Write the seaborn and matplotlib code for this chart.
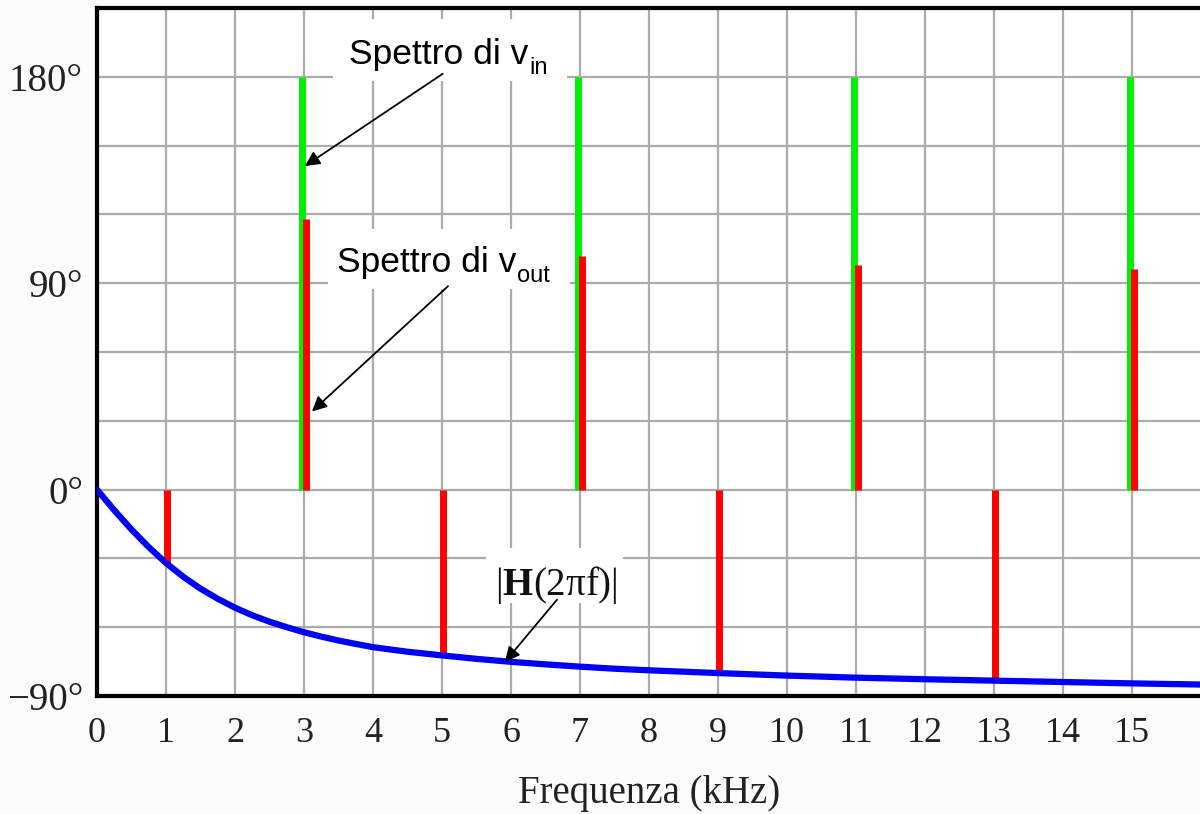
import matplotlib
matplotlib.use("Agg")
import matplotlib.pyplot as plt
from matplotlib.patches import Rectangle
import seaborn as sns
import pandas as pd

# ---- data ----
harm_in = [3, 7, 11, 15]
phase_in = [180, 180, 180, 180]

harm_out_pos = [3, 7, 11, 15]
phase_out_pos = [118, 102, 98, 96]

harm_out_neg = [1, 5, 9, 13]
phase_out_neg = [-32, -72, -80, -83]

curve_f = [0, 0.25, 0.5, 0.75, 1, 1.25, 1.5, 1.75, 2, 2.25, 2.5, 2.75, 3, 3.25, 3.5, 3.75, 4,
           4.5, 5, 5.5, 6, 6.5, 7, 7.5, 8, 9, 10, 11, 12, 13, 14, 15, 16]
curve_phase = [0, -9, -17.4, -25.1, -32, -38, -43.2, -47.6, -51.5, -54.8, -57.6, -60, -62.2, -64.1,
               -65.8, -67.3, -68.7, -70.7, -72.3, -73.8, -75.1, -76.2, -77.2, -78.1, -78.8, -80,
               -81.1, -82, -82.7, -83.3, -83.9, -84.5, -85]

x_ticks = list(range(0, 16))
y_label_ticks = [-90, 0, 90, 180]
y_label_text = ["\u221290\u00b0", "0\u00b0", "90\u00b0", "180\u00b0"]
y_grid = [-90, -60, -30, 0, 30, 60, 90, 120, 150, 180]

# ---- style ----
sns.set_style("white")
plt.rcParams["font.family"] = ["Liberation Serif", "DejaVu Serif"]
plt.rcParams["mathtext.fontset"] = "custom"
plt.rcParams["mathtext.rm"] = "Liberation Serif"
plt.rcParams["mathtext.bf"] = "Liberation Serif:bold"
plt.rcParams["mathtext.it"] = "Liberation Serif:italic"

fig = plt.figure(figsize=(12, 8.14), dpi=100, facecolor="#fcfcfc")
ax = fig.add_axes([97 / 1200, 118 / 814, 1104 / 1200, 688 / 814])
ax.set_facecolor("white")

grid_c = "#ababab"
for gy in y_grid:
    ax.axhline(gy, color=grid_c, lw=1.6, zorder=0)
for gx in range(1, 17):
    ax.axvline(gx, color=grid_c, lw=1.6, zorder=0)

# bars
ax.vlines([h - 0.03 for h in harm_in], 0, phase_in, color="#00ee00", lw=5, zorder=2)
ax.vlines([h + 0.025 for h in harm_out_pos], 0, phase_out_pos, color="#ff0000", lw=5, zorder=3)
ax.vlines([h + 0.02 for h in harm_out_neg], 0, phase_out_neg, color="#ff0000", lw=5, zorder=3)

# |H| curve
df = pd.DataFrame({"f": curve_f, "phase": curve_phase})
sns.lineplot(data=df, x="f", y="phase", ax=ax, color="#0000f5", lw=4.5, zorder=4,
             solid_joinstyle="round", solid_capstyle="round")

ax.set_xlim(0, 16)
ax.set_ylim(-90, 210)
ax.set_xticks(x_ticks)
ax.set_xticklabels([str(t) for t in x_ticks], fontsize=26)
ax.set_yticks(y_label_ticks)
ax.set_yticklabels(y_label_text, fontsize=28)
ax.tick_params(axis="x", length=0, pad=15, colors="#222222")
ax.tick_params(axis="y", length=0, pad=10, colors="#222222")
ax.set_xlabel("Frequenza (kHz)", fontsize=28, color="#222222", labelpad=18)
ax.set_ylabel("")

for side in ["left", "bottom", "top"]:
    ax.spines[side].set_visible(True)
    ax.spines[side].set_color("black")
    ax.spines[side].set_linewidth(3)
ax.spines["right"].set_visible(False)

# white label boxes (behind the bars, above the grid)
for (x0, x1, y0, y1) in [(3.42, 6.81, 178.3, 205.3), (3.35, 6.85, 87.4, 113.6),
                         (5.64, 7.62, -49.4, -25.3)]:
    ax.add_patch(Rectangle((x0, y0), x1 - x0, y1 - y0, fc="white", ec="none", zorder=1))

sans = ["Liberation Sans"]
ax.text(3.652, 185.7, "Spettro di v", fontsize=25.5, color="black", family=sans,
        ha="left", va="baseline", zorder=6)
ax.text(6.26, 181.3, "in", fontsize=17, color="black", family=sans,
        ha="left", va="baseline", zorder=6)
ax.text(3.478, 94.8, "Spettro di v", fontsize=25.5, color="black", family=sans,
        ha="left", va="baseline", zorder=6)
ax.text(6.09, 90.4, "out", fontsize=17, color="black", family=sans,
        ha="left", va="baseline", zorder=6)
ax.text(5.768, -45.9, "$|\\mathbf{H}\\mathrm{(2πf)}|$", fontsize=28, color="#111111",
        ha="left", va="baseline", zorder=6)

arrow = dict(arrowstyle="-|>", color="black", lw=1.3, mutation_scale=22,
             shrinkA=0, shrinkB=0)
ax.annotate("", xy=(3.014, 141.1), xytext=(5.01, 181.3), arrowprops=arrow, zorder=7)
ax.annotate("", xy=(3.116, 34.1), xytext=(5.087, 88.7), arrowprops=arrow, zorder=7)
ax.annotate("", xy=(5.913, -75.1), xytext=(6.667, -48.0), arrowprops=arrow, zorder=7)

fig.savefig("out.png", dpi=100, facecolor=fig.get_facecolor())
